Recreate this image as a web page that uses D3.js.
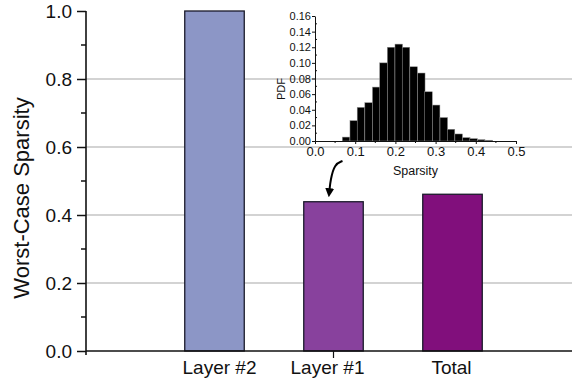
<!DOCTYPE html>
<html>
<head>
<meta charset="utf-8">
<script src="https://cdn.jsdelivr.net/npm/d3@7"></script>
<style>
  body { margin: 0; background: #fff; }
  svg { display: block; font-family: "Liberation Sans", Arial, sans-serif; }
</style>
</head>
<body>
<svg width="572" height="383"></svg>
<script>
// main bars
var categories = ['Layer #2', 'Layer #1', 'Total']
var sparsity = [1.0, 0.439, 0.461]
var barColors = ['#8c96c6', '#88419d', '#810f7c']
var yTicks = [0, 0.2, 0.4, 0.6, 0.8, 1.0]

// inset histogram (bin left edge, pdf value)
var binStart = [0.068, 0.087, 0.105, 0.124, 0.143, 0.161, 0.180, 0.199, 0.217, 0.236,
		0.255, 0.273, 0.292, 0.311, 0.329, 0.348, 0.367, 0.385, 0.404, 0.423]
var binPdf = [0.005, 0.026, 0.043, 0.049, 0.069, 0.100, 0.120, 0.124, 0.120, 0.095,
	      0.087, 0.063, 0.046, 0.030, 0.015, 0.009, 0.0043, 0.003, 0.0017, 0.001]
var binWidth = 0.0187
var insetXTicks = [0, 0.1, 0.2, 0.3, 0.4, 0.5]
var insetYTicks = [0, 0.02, 0.04, 0.06, 0.08, 0.10, 0.12, 0.14, 0.16]

function draw() {
    var svg = d3.select('svg')
    // note: can't call these "top" at global scope (window.top)
    var left = 86, right = 572, bottom = 351, plotTop = 11

    var y = d3.scaleLinear().domain([0, 1]).range([bottom, plotTop])
    var x = d3.scaleBand().domain(categories).range([155, 512])
	.paddingInner(0.5).paddingOuter(0.25)

    // gridlines
    svg.append('g').selectAll('line')
	.data(yTicks.filter(function(d){ return d > 0 && d < 1 }))
	.join('line')
	.attr('x1', left).attr('x2', right)
	.attr('y1', function(d){ return y(d) }).attr('y2', function(d){ return y(d) })
	.attr('stroke', '#a8a8a8').attr('stroke-width', 1.2)

    // bars
    svg.append('g').selectAll('rect')
	.data(sparsity)
	.join('rect')
	.attr('x', function(d,i){ return x(categories[i]) })
	.attr('y', function(d){ return y(d) })
	.attr('width', x.bandwidth())
	.attr('height', function(d){ return y(0) - y(d) })
	.attr('fill', function(d,i){ return barColors[i] })
	.attr('stroke', '#1a1a2a').attr('stroke-width', 1.3)

    // y axis, major + minor ticks
    var yAxis = svg.append('g').attr('transform', 'translate(' + left + ',0)')
	.call(d3.axisLeft(y).tickValues(yTicks).tickFormat(d3.format('.1f'))
	      .tickSize(9).tickPadding(5))
    yAxis.select('.domain').remove()
    yAxis.selectAll('.tick line').attr('stroke', '#111').attr('stroke-width', 1.5)
    yAxis.selectAll('.tick text').attr('font-size', 19).attr('fill', '#111')
	.attr('font-family', '"Liberation Sans", Arial, sans-serif')
    svg.append('g').selectAll('line')
	.data([0.1, 0.3, 0.5, 0.7, 0.9])
	.join('line')
	.attr('x1', left - 5).attr('x2', left)
	.attr('y1', function(d){ return y(d) }).attr('y2', function(d){ return y(d) })
	.attr('stroke', '#111').attr('stroke-width', 1.5)
    svg.append('line')
	.attr('x1', left).attr('x2', left).attr('y1', plotTop).attr('y2', bottom + 4)
	.attr('stroke', '#111').attr('stroke-width', 1.6)

    // x axis: one tick only, under the middle bar
    svg.append('line')
	.attr('x1', left).attr('x2', right).attr('y1', bottom).attr('y2', bottom)
	.attr('stroke', '#111').attr('stroke-width', 1.6)
    var mid = x('Layer #1') + x.bandwidth()/2
    svg.append('line')
	.attr('x1', mid).attr('x2', mid)
	.attr('y1', bottom).attr('y2', bottom + 7)
	.attr('stroke', '#111').attr('stroke-width', 1.2)

    var labelNudge = [5, -6, -1]
    svg.append('g').selectAll('text')
	.data(categories)
	.join('text')
	.attr('x', function(d,i){ return x(d) + x.bandwidth()/2 + labelNudge[i] })
	.attr('y', 374)
	.attr('text-anchor', 'middle')
	.attr('font-size', 19).attr('fill', '#111')
	.text(function(d){ return d })

    svg.append('text')
	.attr('transform', 'translate(29,198) rotate(-90)')
	.attr('text-anchor', 'middle')
	.attr('font-size', 22).attr('fill', '#111')
	.text('Worst-Case Sparsity')

    // ---- inset ----
    var xs = d3.scaleLinear().domain([0, 0.5]).range([315, 516])
    var ys = d3.scaleLinear().domain([0, 0.16]).range([141, 16])

    svg.append('g').selectAll('rect')
	.data(binPdf)
	.join('rect')
	.attr('x', function(d,i){ return xs(binStart[i]) })
	.attr('width', xs(binWidth) - xs(0))
	.attr('y', function(d){ return ys(d) })
	.attr('height', function(d){ return ys(0) - ys(d) })
	.attr('fill', '#000').attr('stroke', '#8a8a8a').attr('stroke-width', 0.5)

    var ix = svg.append('g').attr('transform', 'translate(0,' + ys(0) + ')')
	.call(d3.axisBottom(xs).tickValues(insetXTicks).tickFormat(d3.format('.1f'))
	      .tickSize(3).tickPadding(3).tickSizeOuter(0))
    ix.select('.domain').attr('stroke', '#111').attr('stroke-width', 1)
    ix.selectAll('.tick line').attr('stroke', '#111')
    ix.selectAll('.tick text').attr('font-size', 13).attr('fill', '#111')
	.attr('font-family', '"Liberation Sans", Arial, sans-serif')
    svg.append('g').selectAll('line')
	.data([0.05, 0.15, 0.25, 0.35, 0.45])
	.join('line')
	.attr('x1', function(d){ return xs(d) }).attr('x2', function(d){ return xs(d) })
	.attr('y1', ys(0)).attr('y2', ys(0) + 2)
	.attr('stroke', '#111').attr('stroke-width', 1)

    var iy = svg.append('g').attr('transform', 'translate(' + xs(0) + ',0)')
	.call(d3.axisLeft(ys).tickValues(insetYTicks).tickFormat(d3.format('.2f'))
	      .tickSize(3).tickPadding(1).tickSizeOuter(0))
    iy.select('.domain').attr('stroke', '#111').attr('stroke-width', 1)
    iy.selectAll('.tick line').attr('stroke', '#111')
    iy.selectAll('.tick text').attr('font-size', 11).attr('fill', '#111')
	.attr('font-family', '"Liberation Sans", Arial, sans-serif')
    svg.append('g').selectAll('line')
	.data([0.01, 0.03, 0.05, 0.07, 0.09, 0.11, 0.13, 0.15])
	.join('line')
	.attr('x1', xs(0)).attr('x2', xs(0) + 2)
	.attr('y1', function(d){ return ys(d) }).attr('y2', function(d){ return ys(d) })
	.attr('stroke', '#111').attr('stroke-width', 1)

    svg.append('text')
	.attr('x', (xs(0) + xs(0.5))/2).attr('y', 175)
	.attr('text-anchor', 'middle').attr('font-size', 12.5).attr('fill', '#111')
	.text('Sparsity')
    svg.append('text')
	.attr('transform', 'translate(285,89) rotate(-90)')
	.attr('text-anchor', 'middle').attr('font-size', 11).attr('fill', '#111')
	.text('PDF')

    // curved arrow pointing at the Layer #1 bar
    svg.append('defs').append('marker')
	.attr('id', 'head').attr('viewBox', '0 0 10 10')
	.attr('refX', 2).attr('refY', 5)
	.attr('markerWidth', 4.5).attr('markerHeight', 4.5)
	.attr('orient', 'auto')
	.append('path').attr('d', 'M0,0L10,5L0,10z').attr('fill', '#000')
    svg.append('path')
	.attr('d', d3.line().curve(d3.curveBasis)([[mid + 9, 161], [mid + 1, 164], [mid - 3, 180], [mid - 4, 190]]))
	.attr('fill', 'none').attr('stroke', '#000').attr('stroke-width', 2)
	.attr('marker-end', 'url(#head)')
}

draw()
</script>
</body>
</html>
